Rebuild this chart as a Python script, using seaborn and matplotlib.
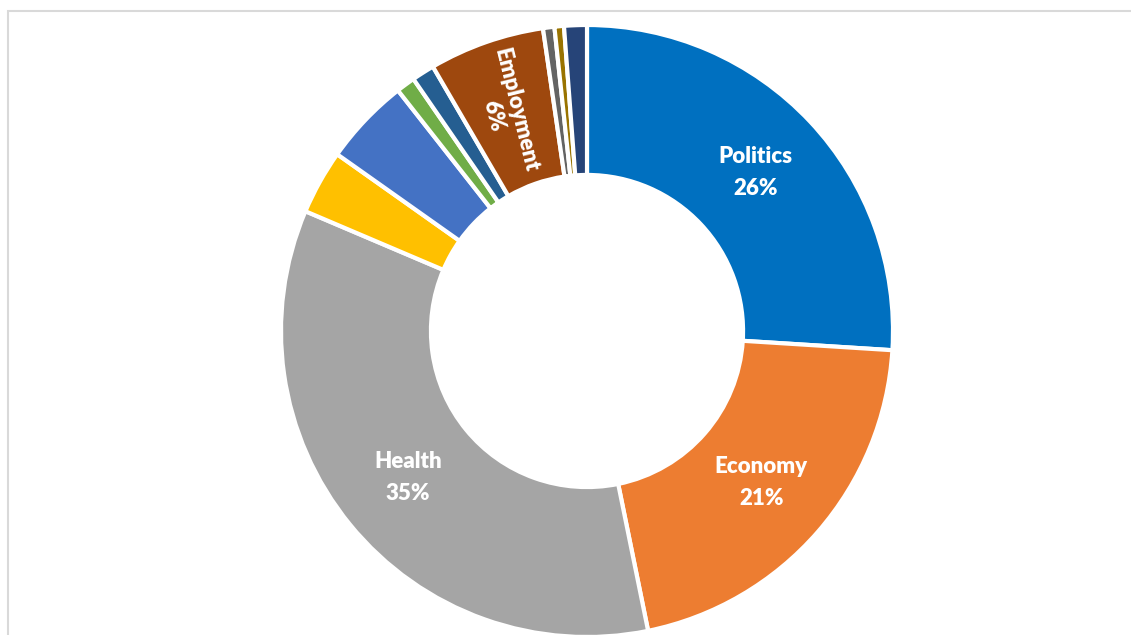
import matplotlib.pyplot as plt
import matplotlib.patches as mpatches
import numpy as np
import seaborn as sns

# data (percent)
topics = ["Politics", "Economy", "Health", "Education", "Environment", "Crime",
          "Immigration", "Employment", "Housing", "Technology", "Other"]
shares = [26.0, 20.8, 34.6, 3.4, 4.6, 1.0, 1.2, 6.1, 0.6, 0.5, 1.2]
shown = ["Politics", "Economy", "Health", "Employment"]
colors = ["#0070C0", "#ED7D31", "#A5A5A5", "#FFC000", "#4472C4", "#70AD47",
          "#255E91", "#9E480E", "#636363", "#997300", "#264478"]

sns.set_theme(style="white")
plt.rcParams['font.family'] = ['Lato', 'DejaVu Sans']

W, H = 1131, 635
fig = plt.figure(figsize=(W / 100, H / 100), dpi=100)

# light frame of the chart area (runs off the right and bottom)
fig.patches.append(mpatches.Rectangle((8 / W, -0.1), 1.2, 1.1 - 11 / H,
                                      transform=fig.transFigure, fill=False,
                                      edgecolor="#D9D9D9", linewidth=1.5))

cx, cy, r = 587, 635 - 331, 306
ax = fig.add_axes([(cx - r) / W, (cy - r) / H, 2 * r / W, 2 * r / H])

wedges, _ = ax.pie(shares, colors=colors, startangle=90, counterclock=False,
                   radius=1, wedgeprops=dict(width=0.49, edgecolor="white", linewidth=3))

total = sum(shares)
start = 90.0
for name, val in zip(topics, shares):
    ang = start - val / total * 360 / 2
    start -= val / total * 360
    if name not in shown:
        continue
    rad = np.deg2rad(ang)
    x, y = 0.755 * np.cos(rad), 0.755 * np.sin(rad)
    txt = f"{name}\n{round(val):.0f}%"
    if name == "Employment":
        ax.text(x - 0.02, y, txt, ha="center", va="center", color="white", fontsize=16,
                fontweight="heavy", rotation=-76, rotation_mode="anchor",
                linespacing=1.15)
    else:
        ax.text(x, y, txt, ha="center", va="center", color="white", fontsize=16,
                fontweight="heavy", linespacing=1.65)

ax.set_xlim(-1, 1)
ax.set_ylim(-1, 1)
ax.set_aspect("equal")
ax.axis("off")

fig.savefig("out.png", dpi=100)
